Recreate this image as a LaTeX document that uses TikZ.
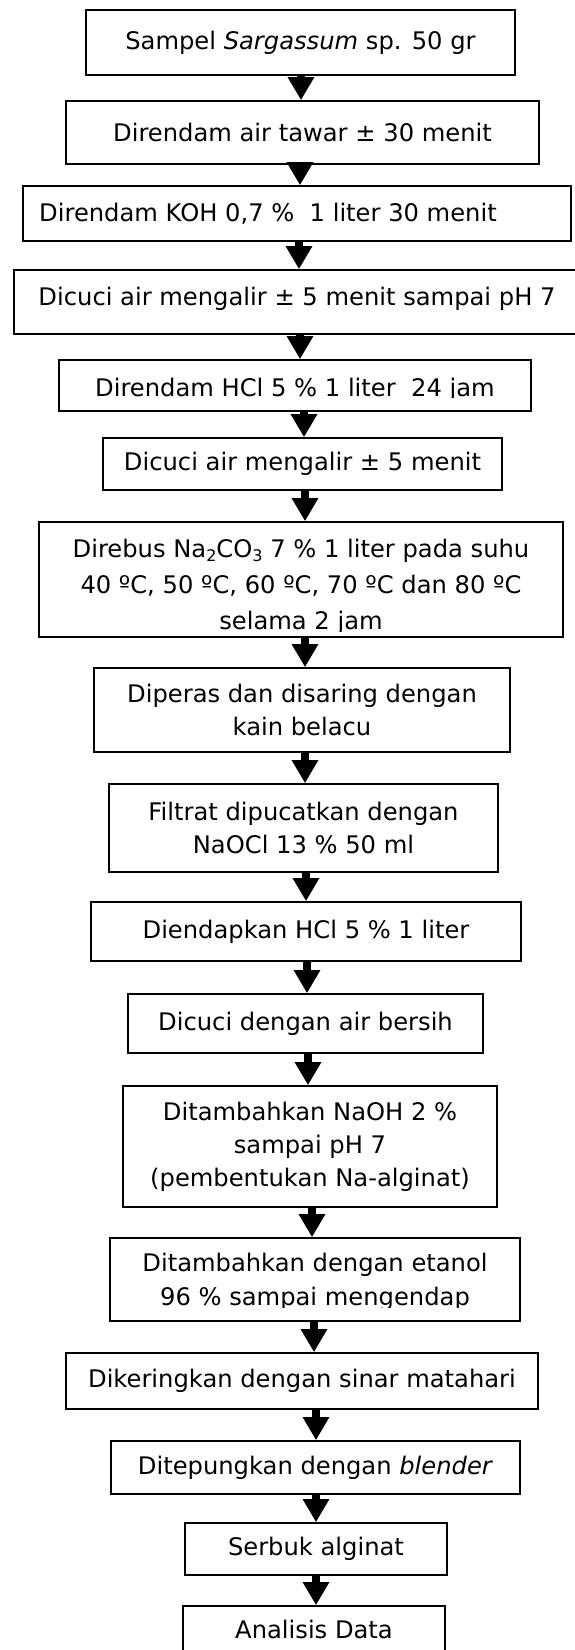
\documentclass[tikz,border=0pt]{standalone}
\usepackage{fontspec}
\setmainfont{DejaVu Sans}
\usetikzlibrary{arrows.meta}
\newcommand{\subs}[1]{\raisebox{-4pt}{\fontsize{16}{16}\selectfont #1}}
\begin{document}
\begin{tikzpicture}[x=1pt,y=-1pt,
  box/.style={draw, line width=1.6pt, inner sep=0pt, align=center, font=\fontsize{24.2}{33}\selectfont},
  txt/.style={inner sep=0pt, align=center, font=\fontsize{24.2}{33}\selectfont},
  arr/.style={line width=8pt, -{Triangle[width=25pt,length=23pt]}}]
\useasboundingbox (0,0) rectangle (574,1650);

\node[box, minimum width=429pt, minimum height=65pt] (b1) at (300.5,42.5) {Sampel \textit{Sargassum} sp. 50 gr};
\node[box, minimum width=473pt, minimum height=63pt] (b2) at (302.5,132.5) {Direndam air tawar ± 30 menit};
\node[box, minimum width=548pt, minimum height=55pt] (b3) at (297,213.5) {Direndam KOH 0,7 \%\ \ 1 liter 30 menit\hspace{58pt}};
\node[box, minimum width=566pt, minimum height=64pt, text depth=12pt] (b4) at (297,302) {Dicuci air mengalir ± 5 menit sampai pH 7};
\node[box, minimum width=472pt, minimum height=51pt] (b5) at (295,385.5) {};
\begin{scope}
\clip (0,0) rectangle (574,397.5);
\node[txt, anchor=base] (t5) at (295,396) {Direndam HCl 5 \% 1 liter\ \ 24 jam};
\end{scope}
\node[box, minimum width=399pt, minimum height=52pt] (b6) at (302.5,464) {Dicuci air mengalir ± 5 menit};
\node[box, minimum width=524pt, minimum height=115pt] (b7) at (301,579.5) {};
\begin{scope}
\clip (0,0) rectangle (574,631.5);
\node[txt, anchor=south, text depth=0pt] (t7) at (301,630) {Direbus Na\subs{2}CO\subs{3} 7 \% 1 liter pada suhu\\[3pt]40 ºC, 50 ºC, 60 ºC, 70 ºC dan 80 ºC\\[3pt]selama 2 jam};
\end{scope}
\node[box, minimum width=416pt, minimum height=84pt] (b8) at (302,710) {Diperas dan disaring dengan\\kain belacu};
\node[box, minimum width=389pt, minimum height=88pt] (b9) at (303.5,828) {Filtrat dipucatkan dengan\\NaOCl 13 \% 50 ml};
\node[box, minimum width=430pt, minimum height=59pt] (b10) at (306,931.5) {Diendapkan HCl 5 \% 1 liter};
\node[box, minimum width=355pt, minimum height=59pt] (b11) at (305.5,1023.5) {Dicuci dengan air bersih};
\node[box, minimum width=374pt, minimum height=121pt] (b12) at (310,1146.5) {Ditambahkan NaOH 2 \%\\sampai pH 7\\(pembentukan Na-alginat)};
\node[box, minimum width=410pt, minimum height=83pt] (b13) at (315,1279.5) {};
\begin{scope}
\clip (0,0) rectangle (574,1307.5);
\node[txt, anchor=south, text depth=0pt] (t13) at (315,1306) {Ditambahkan dengan etanol\\[1pt]96 \% sampai mengendap};
\end{scope}
\node[box, minimum width=472pt, minimum height=56pt] (b14) at (302,1381) {Dikeringkan dengan sinar matahari};
\node[box, minimum width=409pt, minimum height=53pt] (b15) at (315.5,1467.5) {Ditepungkan dengan \textit{blender}};
\node[box, minimum width=262pt, minimum height=52pt] (b16) at (316,1549) {Serbuk alginat};
\node[box, minimum width=262pt, minimum height=46pt] (b17) at (314,1629) {Analisis Data};

\coordinate (a1) at (301,0);
\coordinate (a2) at (300,0);
\coordinate (a3) at (299,0);
\coordinate (a4) at (300,0);
\coordinate (a5) at (304,0);
\coordinate (a6) at (305,0);
\coordinate (a7) at (305,0);
\coordinate (a8) at (305,0);
\coordinate (a9) at (306,0);
\coordinate (a10) at (307,0);
\coordinate (a11) at (308,0);
\coordinate (a12) at (312,0);
\coordinate (a13) at (314,0);
\coordinate (a14) at (316,0);
\coordinate (a15) at (316,0);
\coordinate (a16) at (316,0);

\draw[arr] (b1.south -| a1) -- (b2.north -| a1);
\draw[arr] (b2.south -| a2) -- (b3.north -| a2);
\draw[arr] (b3.south -| a3) -- (b4.north -| a3);
\draw[arr] (b4.south -| a4) -- (b5.north -| a4);
\draw[arr] (b5.south -| a5) -- (b6.north -| a5);
\draw[arr] (b6.south -| a6) -- (b7.north -| a6);
\draw[arr] (b7.south -| a7) -- (b8.north -| a7);
\draw[arr] (b8.south -| a8) -- (b9.north -| a8);
\draw[arr] (b9.south -| a9) -- (b10.north -| a9);
\draw[arr] (b10.south -| a10) -- (b11.north -| a10);
\draw[arr] (b11.south -| a11) -- (b12.north -| a11);
\draw[arr] (b12.south -| a12) -- (b13.north -| a12);
\draw[arr] (b13.south -| a13) -- (b14.north -| a13);
\draw[arr] (b14.south -| a14) -- (b15.north -| a14);
\draw[arr] (b15.south -| a15) -- (b16.north -| a15);
\draw[arr] (b16.south -| a16) -- (b17.north -| a16);
\end{tikzpicture}
\end{document}
